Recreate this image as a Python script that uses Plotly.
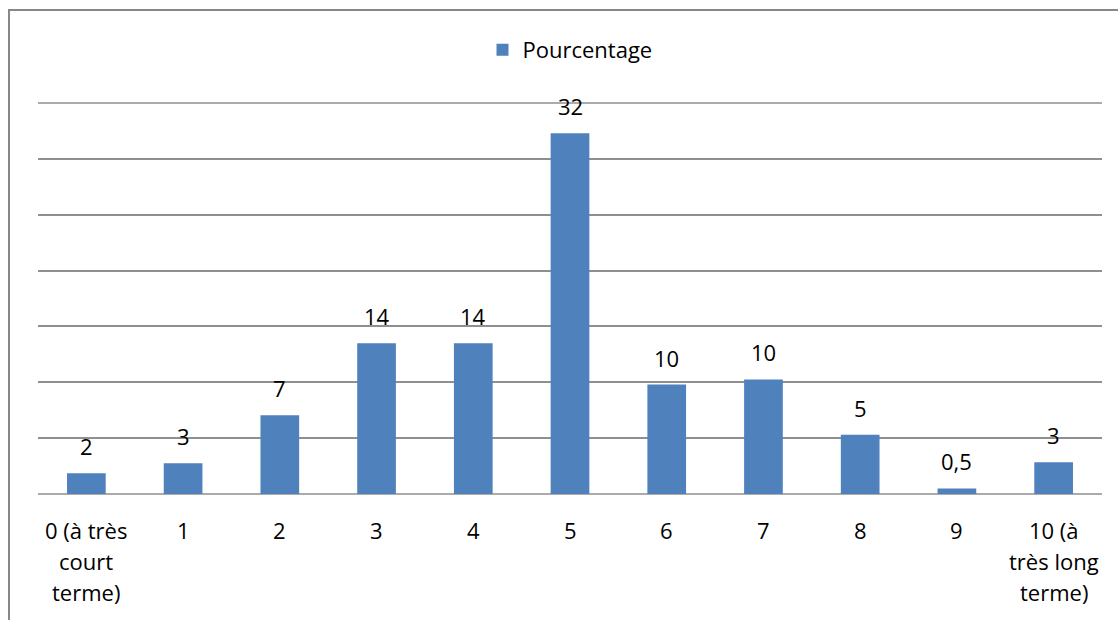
import plotly.graph_objects as go

categories = ["0 (à très<br>court<br>terme)", "1", "2", "3", "4", "5", "6", "7", "8", "9", "10 (à<br>très long<br>terme)"]
values = [1.85, 2.75, 7.05, 13.5, 13.5, 32.3, 9.8, 10.25, 5.3, 0.5, 2.85]
labels = ["2", "3", "7", "14", "14", "32", "10", "10", "5", "0,5", "3"]
series_name = "Pourcentage"

FONT = "Open Sans"
FS = 22
W, H = 1118, 620
L, R, T, B = 38, 16, 103, 126
GRID = "#8f8f8f"
x_idx = list(range(len(categories)))

fig = go.Figure()
fig.add_trace(go.Bar(
    x=x_idx, y=values, name=series_name,
    marker=dict(color="#4F81BD", line=dict(width=0)),
    showlegend=True,
))

ann = []
for i, (v, lab) in enumerate(zip(values, labels)):
    ann.append(dict(x=i, y=v, xref="x", yref="y", text=lab, showarrow=False,
                    yanchor="middle", xanchor="center", yshift=27,
                    font=dict(family=FONT, size=FS, color="#000")))
for i, cat in enumerate(categories):
    for j, line in enumerate(cat.split("<br>")):
        ann.append(dict(x=i, y=0, xref="x", yref="paper", text=line, showarrow=False,
                        yanchor="middle", xanchor="center", yshift=-(36 + 31 * j),
                        font=dict(family=FONT, size=FS, color="#000")))

pw = W - L - R
ph = H - T - B
fig.update_layout(
    width=W, height=H,
    margin=dict(l=L, r=R, t=T, b=B, pad=0),
    paper_bgcolor="white", plot_bgcolor="white",
    bargap=0.6,
    font=dict(family=FONT, size=FS, color="#000"),
    legend=dict(orientation="h", x=0.5, xanchor="center", y=1 + (T - 50) / ph,
                yanchor="middle", font=dict(family=FONT, size=FS, color="#000"),
                bgcolor="rgba(0,0,0,0)"),
    xaxis=dict(range=[-0.5, len(categories) - 0.5], showticklabels=False,
               showgrid=False, zeroline=False, showline=False, ticks=""),
    yaxis=dict(range=[0, 35], dtick=5, showticklabels=False, showgrid=True,
               gridcolor=GRID, gridwidth=1.5, zeroline=False,
               showline=False, ticks=""),
    annotations=ann,
    shapes=[dict(type="rect", xref="paper", yref="paper",
                 x0=(9 - L) / pw, x1=(W + 20 - L) / pw,
                 y0=-(B + 20) / ph, y1=1 + (T - 10) / ph,
                 line=dict(color="#878787", width=2), fillcolor="rgba(0,0,0,0)",
                 layer="below"),
            dict(type="line", xref="paper", yref="paper", x0=0, x1=1, y0=1, y1=1,
                 line=dict(color=GRID, width=1.5), layer="below"),
            dict(type="line", xref="paper", yref="paper", x0=0, x1=1, y0=0, y1=0,
                 line=dict(color=GRID, width=1.5), layer="below")],
)

fig.write_html("out.html", config={"displayModeBar": False},
               post_script="document.body.style.margin='0';")
